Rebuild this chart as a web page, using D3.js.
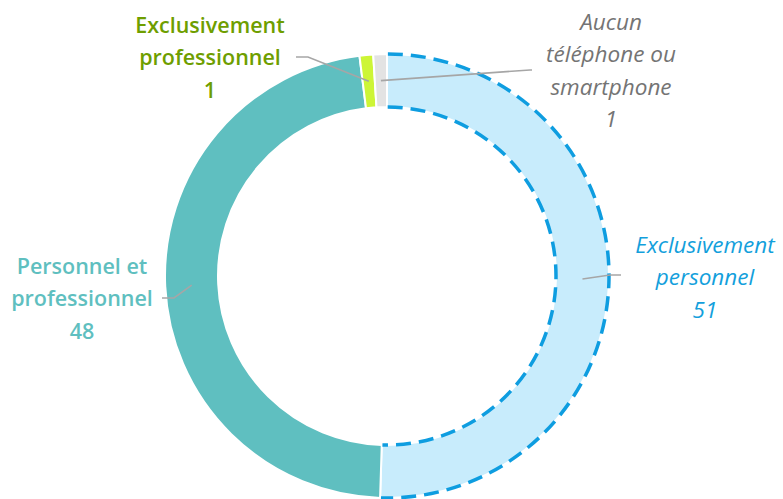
<!DOCTYPE html>
<html lang="fr">
<head>
<meta charset="utf-8">
<script src="https://cdn.jsdelivr.net/npm/d3@7"></script>
<style>
  html, body { margin: 0; padding: 0; background: #fff; }
  svg { display: block; font-family: "Open Sans", "Noto Sans", sans-serif; }
</style>
</head>
<body>
<svg id="chart" width="783" height="499"></svg>
<script>
// Usage du téléphone : répartition des répondants
const categories = [
  "Exclusivement personnel",
  "Personnel et professionnel",
  "Exclusivement professionnel",
  "Aucun téléphone ou smartphone"
];
const values = [51, 48, 1, 1];
const labelLines = [
  ["Exclusivement", "personnel", "51"],
  ["Personnel et", "professionnel", "48"],
  ["Exclusivement", "professionnel", "1"],
  ["Aucun", "téléphone ou", "smartphone", "1"]
];

// Styles per slice
const fills = ["#c8ecfc", "#5fbfc0", "#cdf536", "#e3e3e3"];
const labelColors = ["#139fdc", "#5fbfc0", "#6e9e00", "#747474"];
const labelStyles = ["italic", "normal", "normal", "italic"];
const labelWeights = [400, 600, 600, 400];
const labelSizes = [22.5, 21.5, 21.5, 22.5];

// Label layout: text centre x, first line y, leader end/elbow
const labelLayout = [
  { x: 705, y: 245, elbow: [610, 275], end: [621, 275] },
  { x: 82,  y: 266, elbow: [174, 298], end: [162, 298] },
  { x: 210, y: 25,  elbow: [308, 57],  end: [296, 57] },
  { x: 611, y: 22,  elbow: [530, 70],  end: [532, 70] }
];

const svg = d3.select("#chart");
const cx = 387, cy = 276;
const outerR = 222, innerR = 169;
const lineH = 32.5;

const pie = d3.pie().sort(null).value(d => d)
  .startAngle(0).endAngle(2 * Math.PI);
const arcs = pie(values);
const arc = d3.arc().innerRadius(innerR).outerRadius(outerR);

const g = svg.append("g").attr("transform", `translate(${cx},${cy})`);

g.selectAll("path.slice")
  .data(arcs)
  .join("path")
  .attr("class", "slice")
  .attr("d", arc)
  .attr("fill", (d, i) => fills[i])
  .attr("stroke", "#fff")
  .attr("stroke-width", 2);

// Dashed outer and inner rims on the "Exclusivement personnel" slice
const first = arcs[0];
[outerR, innerR].forEach(r => {
  const p = d3.path();
  const a0 = first.startAngle + 0.004 - Math.PI / 2;
  const a1 = first.endAngle - 0.004 - Math.PI / 2;
  p.moveTo(r * Math.cos(a0), r * Math.sin(a0));
  p.arc(0, 0, r, a0, a1);
  g.append("path")
    .attr("d", p.toString())
    .attr("fill", "none")
    .attr("stroke", "#0e9de0")
    .attr("stroke-width", 3.5)
    .attr("stroke-dasharray", "15,8");
});

// Leader lines from slice mid-ring to labels
const midR = (innerR + outerR) / 2;
arcs.forEach((d, i) => {
  const a = (d.startAngle + d.endAngle) / 2;
  const sx = cx + midR * Math.sin(a);
  const sy = cy - midR * Math.cos(a);
  const L = labelLayout[i];
  svg.append("polyline")
    .attr("points", [[sx, sy], L.elbow, L.end].map(p => p.join(",")).join(" "))
    .attr("fill", "none")
    .attr("stroke", "#a6a6a6")
    .attr("stroke-width", 1.6);
});

// Labels
labelLines.forEach((lines, i) => {
  const L = labelLayout[i];
  const t = svg.append("text")
    .attr("text-anchor", "middle")
    .attr("font-size", labelSizes[i])
    .attr("font-style", labelStyles[i])
    .attr("font-weight", labelWeights[i])
    .attr("fill", labelColors[i]);
  lines.forEach((s, k) => {
    t.append("tspan")
      .attr("x", L.x)
      .attr("y", L.y + k * lineH)
      .attr("dy", "0.35em")
      .text(s);
  });
});
</script>
</body>
</html>
